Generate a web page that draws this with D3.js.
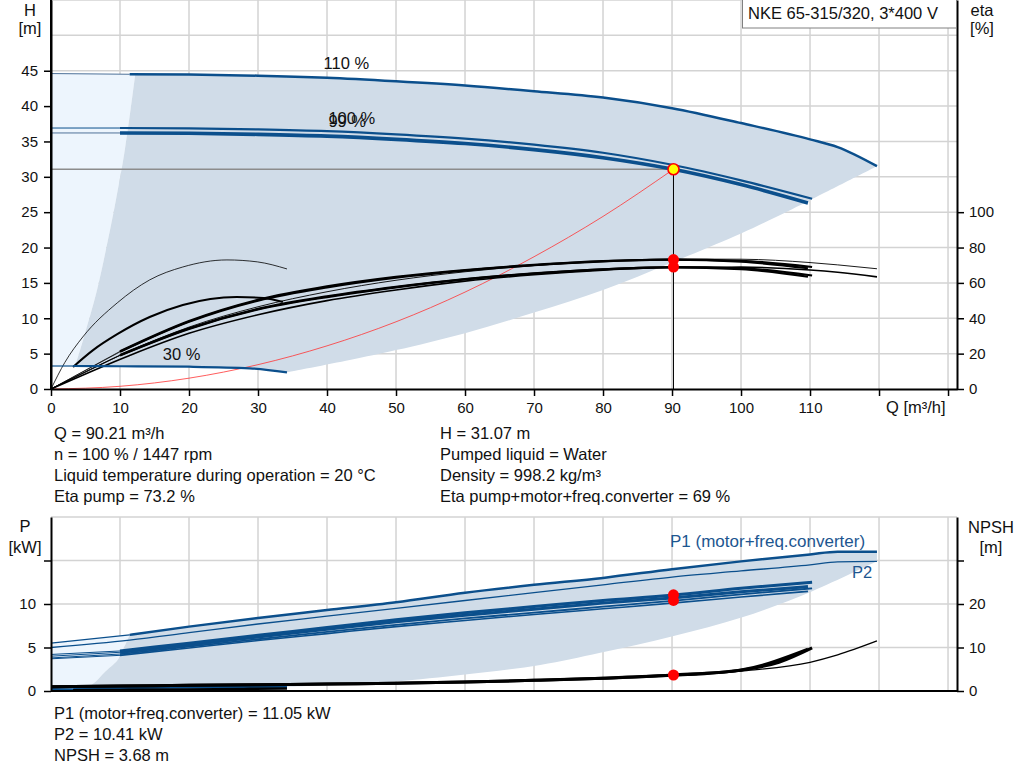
<!DOCTYPE html>
<html>
<head>
<meta charset="utf-8">
<script src="https://cdn.jsdelivr.net/npm/d3@7"></script>
<style>
body { margin: 0; background: #fff; }
svg text { font-family: "Liberation Sans", Arial, sans-serif; font-size: 16.5px; fill: #111; }
svg .tick text { font-size: 15px; }
</style>
</head>
<body>
<svg id="chart" width="1024" height="781"></svg>
<script>
// ---- data ----
const gridQ = [10, 20, 30, 40, 50, 60, 70, 80, 90, 100, 110, 120, 130];
const qTicks = [0, 10, 20, 30, 40, 50, 60, 70, 80, 90, 100, 110, 120, 130];
const hTicks = [0, 5, 10, 15, 20, 25, 30, 35, 40, 45];
const etaTicks = [0, 20, 40, 60, 80, 100];
const pTicks = [0, 5, 10, 15];
const npshTicks = [0, 10, 20, 30];

// head curves
const q110 = [0, 11.4, 20, 30, 40, 50, 60, 70, 80, 90, 100, 110, 114, 119.7];
const h110 = [44.6, 44.5, 44.45, 44.3, 44.0, 43.5, 42.9, 42.1, 41.2, 39.7, 37.6, 35.3, 34.2, 31.5];
const q100 = [0, 10, 20, 30, 40, 50, 60, 70, 80, 90, 100, 110.3];
const h100 = [36.9, 36.9, 36.85, 36.7, 36.45, 36.0, 35.4, 34.55, 33.4, 31.7, 29.5, 26.9];
const q99 = [0, 10, 20, 30, 40, 50, 60, 70, 80, 90, 100, 109.7];
const h99 = [36.2, 36.2, 36.15, 36.0, 35.75, 35.3, 34.7, 33.85, 32.7, 31.1, 28.9, 26.3];
const q30 = [0, 3.2, 10, 20, 28.8, 34.2];
const h30 = [3.25, 3.25, 3.22, 3.15, 2.93, 2.36];

// system curve
const qSys = [0, 10, 20, 30, 40, 50, 60, 70, 80, 90.21];
const hSys = [0, 0.38, 1.53, 3.44, 6.1, 9.5, 13.7, 18.7, 24.4, 31.07];

// operating range limits
const minQ = [3.5, 4.64, 6.67, 8.26, 9.4, 10.7, 12.2];
const minH = [3.25, 6.9, 14.0, 21.1, 26.7, 33.8, 44.4];
const maxQ = [119.7, 110, 105, 100, 90, 80, 70, 60, 50, 43.3, 34.2];
const maxH = [31.5, 26.7, 24.3, 22.0, 17.9, 14.0, 10.8, 7.9, 5.5, 4.1, 2.36];

// efficiency curves [%]
const etaPump100 = [0, 21, 38, 50, 57.5, 63, 67, 70, 72.2, 73.2, 72.5, 69];
const etaTotal100 = [0, 19, 34, 45, 52, 57.5, 62, 65.3, 67.7, 69, 68.3, 64.2];
const etaPump99 = [0, 21.3, 38.4, 50.4, 58, 63.4, 67.3, 70.2, 72.3, 73.1, 72, 68.3];
const etaTotal99 = [0, 19.2, 34.3, 45.3, 52.4, 57.8, 62.2, 65.4, 67.7, 68.8, 67.8, 63.5];
const etaPump110 = [0, 21.5, 35, 46.5, 55, 61.5, 66.3, 69.8, 72.2, 73.5, 73.4, 71.5, 70.2, 68];
const etaTotal110 = [0, 19, 31.5, 42, 50, 56, 61, 64.6, 67.2, 68.7, 68.9, 67.3, 66, 63.4];
const qEtaPump30 = [0, 2, 4.6, 9.6, 14.3, 19.1, 25.5, 29.9, 34.2];
const etaPump30 = [0, 15, 29.4, 48.7, 61.7, 69, 73, 71.9, 67.9];
const qEtaTotal30 = [3.2, 6.1, 9.6, 14.3, 19.1, 26.9, 30.8, 33.6];
const etaTotal30 = [12.5, 22, 31, 40.7, 47.5, 52, 51.5, 49.2];

// power curves [kW]
const p1_110 = [5.5, 6.45, 7.4, 8.4, 9.3, 10.2, 11.3, 12.2, 13.0, 14.0, 14.9, 15.7, 16.0, 16.0];
const p2_110 = [5.0, 5.85, 6.7, 7.7, 8.6, 9.5, 10.4, 11.3, 12.2, 13.1, 13.8, 14.5, 14.85, 14.9];
const p1_100 = [4.2, 4.6, 5.5, 6.4, 7.3, 8.2, 9.0, 9.7, 10.4, 11.0, 11.8, 12.5];
const p2_100 = [3.8, 4.25, 5.1, 5.95, 6.8, 7.6, 8.35, 9.0, 9.7, 10.35, 11.1, 11.8];
const p1_99 = [4.0, 4.45, 5.3, 6.2, 7.1, 7.95, 8.7, 9.4, 10.1, 10.7, 11.4, 12.0];
const p2_99 = [3.7, 4.1, 4.95, 5.8, 6.6, 7.4, 8.1, 8.8, 9.45, 10.1, 10.8, 11.45];
const p1_30 = [0.3, 0.32, 0.36, 0.42, 0.48, 0.5];
const p2_30 = [0.15, 0.16, 0.19, 0.23, 0.27, 0.29];
const bMinQ = [5.2, 6.5, 7.7, 9.6, 10.1, 11.4];
const bMinP = [0.33, 1.1, 2.1, 3.5, 4.2, 6.45];
const bMaxQ = [119.7, 110.4, 100.3, 90.1, 79.6, 70.9, 60, 50, 43.3, 34.2];
const bMaxP = [14.9, 11.5, 8.5, 6.3, 4.4, 3.0, 1.9, 1.1, 0.75, 0.5];

// NPSH [m]
const npsh99 = [1.0, 1.15, 1.3, 1.45, 1.6, 1.8, 2.05, 2.45, 2.95, 3.6, 4.85, 9.6];
const npsh110 = [1.0, 1.15, 1.3, 1.45, 1.6, 1.8, 2.05, 2.45, 2.9, 3.55, 4.6, 6.6, 8.3, 11.5];
const qN30 = [3.2, 10, 20, 28.8, 34.2];
const npsh30 = [0.2, 0.25, 0.35, 0.5, 0.6];
const qN100 = [0, 10, 20, 30, 40, 50, 60, 70, 80, 90, 100, 105.5, 110.3];
const npsh100 = [1.0, 1.15, 1.3, 1.45, 1.6, 1.8, 2.05, 2.45, 2.95, 3.68, 4.8, 6.6, 9.9];

// duty point
const opQ = 90.21, opH = 31.07, opEtaPump = 73.2, opEtaTotal = 69;
const opP1 = 11.05, opP2 = 10.41, opNpsh = 3.68;

const infoLeft = ["Q = 90.21 m³/h", "n = 100 % / 1447 rpm", "Liquid temperature during operation = 20 °C", "Eta pump = 73.2 %"];
const infoRight = ["H = 31.07 m", "Pumped liquid = Water", "Density = 998.2 kg/m³", "Eta pump+motor+freq.converter = 69 %"];
const infoBottom = ["P1 (motor+freq.converter) = 11.05 kW", "P2 = 10.41 kW", "NPSH = 3.68 m"];

// ---- scales ----
const x = d3.scaleLinear().domain([0, 131.3]).range([51, 957]);
const yH = d3.scaleLinear().domain([0, 55]).range([389, 0]);
const yEta = d3.scaleLinear().domain([0, 220]).range([389, 0]);
const yP = d3.scaleLinear().domain([0, 20]).range([691, 517]);
const yN = d3.scaleLinear().domain([0, 40]).range([691, 517]);

const BLUE = "#0b4f8c";
const THINBLUE = "#4f7299";
const SHADE = "#d0dce8";
const LIGHT = "#edf5fd";

const svg = d3.select('#chart');

function pts(qs, vs) {
	return qs.map(function(q, i) { return [q, vs[i]]; });
}

function drawGrid(yScale, hVals, top, bottom) {
	const g = svg.append('g').attr('stroke', '#d3d3d3').attr('stroke-width', 1.5);
	g.selectAll('line.v').data(gridQ).enter().append('line')
		.attr('x1', d => x(d)).attr('x2', d => x(d))
		.attr('y1', top).attr('y2', bottom);
	g.selectAll('line.h').data(hVals).enter().append('line')
		.attr('x1', x(0)).attr('x2', x.range()[1])
		.attr('y1', d => yScale(d)).attr('y2', d => yScale(d));
}

// polygon from several edges, each drawn smooth
function region(parts, yScale, fill) {
	const lineCR = d3.line().curve(d3.curveCatmullRom)
		.x(d => x(d[0])).y(d => yScale(d[1]));
	let s = parts.map(function(p, i) {
		let d = lineCR(p);
		return i ? d.replace(/^M/, 'L') : d;
	}).join('') + 'Z';
	svg.append('path').attr('d', s).attr('fill', fill).attr('stroke', 'none');
}

// curve with optional thin start below thickFrom
function curve(qs, vs, yScale, color, w, thickFrom, thinColor, thinW) {
	const line = d3.line().curve(d3.curveMonotoneX)
		.x(d => x(d[0])).y(d => yScale(d[1]));
	let data = pts(qs, vs);
	if (thickFrom !== undefined) {
		svg.append('path').attr('d', line(data.filter(d => d[0] <= thickFrom)))
			.attr('fill', 'none').attr('stroke', thinColor || color).attr('stroke-width', thinW || 1);
		data = data.filter(d => d[0] >= thickFrom);
	}
	svg.append('path').attr('d', line(data))
		.attr('fill', 'none').attr('stroke', color).attr('stroke-width', w)
		.attr('stroke-linejoin', 'round');
}

function styleAxis(g) {
	g.attr('font-size', null).attr('font-family', null).attr('color', '#000');
	g.select('.domain').attr('stroke-width', 2);
	g.selectAll('.tick line').attr('stroke-width', 1.5);
}

// ================= top chart =================
drawGrid(yH, [5, 10, 15, 20, 25, 30, 35, 40, 45, 50, 55], 0, 389);

// light area left of minimum flow
region([
	pts([0, 11.4, 12.2], [44.6, 44.5, 44.4]),
	pts(minQ.slice().reverse(), minH.slice().reverse()),
	pts([3.2, 0], [3.25, 3.25])
], yH, LIGHT);

// operating area
region([
	[[12.2, 44.4]].concat(pts(q110, h110).filter(d => d[0] > 12.2)),
	pts(maxQ, maxH),
	pts(q30, h30).filter(d => d[0] > 3.5).reverse().concat([[3.5, 3.25]]),
	pts(minQ, minH)
], yH, SHADE);

// duty point guide lines
svg.append('line').attr('x1', x(0)).attr('x2', x(opQ))
	.attr('y1', yH(opH)).attr('y2', yH(opH))
	.attr('stroke', '#8c8c8c').attr('stroke-width', 1.5);
svg.append('line').attr('x1', x(opQ)).attr('x2', x(opQ))
	.attr('y1', yH(opH)).attr('y2', yH(0))
	.attr('stroke', '#000').attr('stroke-width', 1);

// system curve
curve(qSys, hSys, yH, '#ff3333', 0.8);

// efficiency curves
curve(qEtaPump30, etaPump30, yEta, '#000', 0.8);
curve(qEtaTotal30, etaTotal30, yEta, '#000', 2);
curve(q110, etaTotal110, yEta, '#000', 1.6);
curve(q110, etaPump110, yEta, '#000', 0.9);
curve(q99, etaTotal99, yEta, '#000', 2.2, 10, '#000', 0.7);
curve(q100, etaTotal100, yEta, '#000', 2.2, 10, '#000', 0.7);
curve(q99, etaPump99, yEta, '#000', 2.2, 10, '#000', 0.7);
curve(q100, etaPump100, yEta, '#000', 2.2, 10, '#000', 0.7);

// head curves
curve(q30, h30, yH, BLUE, 2.2, 3.2, BLUE, 1.2);
curve(q110, h110, yH, BLUE, 2.5, 11.4, THINBLUE, 1);
curve(q99, h99, yH, BLUE, 3.6, 10, THINBLUE, 1);
curve(q100, h100, yH, BLUE, 2.2, 10, BLUE, 1);

// duty points
svg.selectAll('circle.eta').data([opEtaPump, opEtaTotal]).enter().append('circle')
	.attr('cx', x(opQ)).attr('cy', d => yEta(d)).attr('r', 5.5).attr('fill', '#ff0000');
svg.append('circle').attr('cx', x(opQ)).attr('cy', yH(opH)).attr('r', 5.5)
	.attr('fill', '#ffff00').attr('stroke', '#ff0000').attr('stroke-width', 1.6);

// curve labels
svg.append('text').attr('x', x(39.5)).attr('y', yH(45.3)).text('110 %');
svg.append('text').attr('x', x(40.2)).attr('y', yH(37.5)).text('100 %');
svg.append('text').attr('x', x(40.2)).attr('y', yH(37.1)).text('99 %');
svg.append('text').attr('x', x(16.2)).attr('y', yH(4.1)).text('30 %');

// axes
let ax = svg.append('g').attr('transform', 'translate(' + x(0) + ',0)')
	.call(d3.axisLeft(yH).tickValues(hTicks).tickSize(7).tickSizeOuter(0).tickPadding(6));
styleAxis(ax);
svg.append('line').attr('x1', x(0)).attr('x2', x(0)).attr('y1', 0).attr('y2', 389)
	.attr('stroke', '#000').attr('stroke-width', 2);
ax = svg.append('g').attr('transform', 'translate(' + x.range()[1] + ',0)')
	.call(d3.axisRight(yEta).tickValues(etaTicks).tickSize(7).tickSizeOuter(0).tickPadding(5));
styleAxis(ax);
ax = svg.append('g').attr('transform', 'translate(0,' + yH(0) + ')')
	.call(d3.axisBottom(x).tickValues(qTicks).tickSize(7).tickSizeOuter(0).tickPadding(6)
		.tickFormat(d => d <= 110 ? d : ''));
styleAxis(ax);

svg.append('text').attr('x', 886).attr('y', 413).text('Q [m³/h]');
svg.append('text').attr('x', 30).attr('y', 16).attr('text-anchor', 'middle').text('H');
svg.append('text').attr('x', 30).attr('y', 34).attr('text-anchor', 'middle').text('[m]');
svg.append('text').attr('x', 982).attr('y', 16).attr('text-anchor', 'middle').text('eta');
svg.append('text').attr('x', 982).attr('y', 34).attr('text-anchor', 'middle').text('[%]');

// title box
svg.append('rect').attr('x', 742.5).attr('y', -1).attr('width', 214).attr('height', 29)
	.attr('fill', '#fff').attr('stroke', '#808080').attr('stroke-width', 1);
svg.append('text').attr('x', 748).attr('y', 19).text('NKE 65-315/320, 3*400 V');

// info texts
svg.selectAll('text.il').data(infoLeft).enter().append('text')
	.attr('x', 54).attr('y', (d, i) => 439 + i * 21).text(d => d);
svg.selectAll('text.ir').data(infoRight).enter().append('text')
	.attr('x', 440).attr('y', (d, i) => 439 + i * 21).text(d => d);

// ================= bottom chart =================
drawGrid(yP, [5, 10, 15, 20], 517, 691);

region([
	pts([0, 11.4], [p1_110[0], p1_110[1]]),
	pts(bMinQ.slice().reverse(), bMinP.slice().reverse()),
	pts([3.2, 0], [p1_30[1], p1_30[0]])
], yP, LIGHT);

region([
	pts(q110, p1_110).filter(d => d[0] >= 11.4),
	pts(bMaxQ, bMaxP),
	pts(q30, p1_30).filter(d => d[0] > 5.2).reverse().concat([[5.2, 0.33]]),
	pts(bMinQ, bMinP)
], yP, SHADE);

// power curves
curve(q30, p2_30, yP, BLUE, 1.2);
curve(q30, p1_30, yP, BLUE, 2.5, 3.2, BLUE, 1.2);
curve(q110, p2_110, yP, BLUE, 1.3);
curve(q110, p1_110, yP, BLUE, 2.5, 11.4, BLUE, 1.2);
curve(q99, p2_99, yP, BLUE, 1.6, 10, BLUE, 1);
curve(q100, p2_100, yP, BLUE, 1.8, 10, BLUE, 1);
curve(q99, p1_99, yP, BLUE, 3, 10, BLUE, 1);
curve(q100, p1_100, yP, BLUE, 3, 10, BLUE, 1);

// NPSH curves
curve(qN30, npsh30, yN, '#000', 2.5);
curve(q110, npsh110, yN, '#000', 1.3);
curve(q99, npsh99, yN, '#000', 3);
curve(qN100, npsh100, yN, '#000', 3);

svg.selectAll('circle.p').data([opP1, opP2]).enter().append('circle')
	.attr('cx', x(opQ)).attr('cy', d => yP(d)).attr('r', 5.5).attr('fill', '#ff0000');
svg.append('circle').attr('cx', x(opQ)).attr('cy', yN(opNpsh)).attr('r', 5.5).attr('fill', '#ff0000');

svg.append('text').attr('x', 670).attr('y', 547).style('fill', '#1d5690').style('font-size', '17px')
	.text('P1 (motor+freq.converter)');
svg.append('text').attr('x', 852).attr('y', 578).style('fill', '#1d5690').text('P2');

ax = svg.append('g').attr('transform', 'translate(' + x(0) + ',0)')
	.call(d3.axisLeft(yP).tickValues(pTicks).tickSize(7).tickSizeOuter(0).tickPadding(8)
		.tickFormat(d => d <= 10 ? d : ''));
styleAxis(ax);
ax = svg.append('g').attr('transform', 'translate(' + x.range()[1] + ',0)')
	.call(d3.axisRight(yN).tickValues(npshTicks).tickSize(7).tickSizeOuter(0).tickPadding(5)
		.tickFormat(d => d <= 20 ? d : ''));
styleAxis(ax);
svg.append('line').attr('x1', x(0)).attr('x2', x.range()[1]).attr('y1', yP(0)).attr('y2', yP(0))
	.attr('stroke', '#000').attr('stroke-width', 2);

svg.append('text').attr('x', 25).attr('y', 532).attr('text-anchor', 'middle').text('P');
svg.append('text').attr('x', 25).attr('y', 553).attr('text-anchor', 'middle').text('[kW]');
svg.append('text').attr('x', 991).attr('y', 533).attr('text-anchor', 'middle').text('NPSH');
svg.append('text').attr('x', 991).attr('y', 553).attr('text-anchor', 'middle').text('[m]');

svg.selectAll('text.ib').data(infoBottom).enter().append('text')
	.attr('x', 54).attr('y', (d, i) => 719 + i * 21).text(d => d);
</script>
</body>
</html>
